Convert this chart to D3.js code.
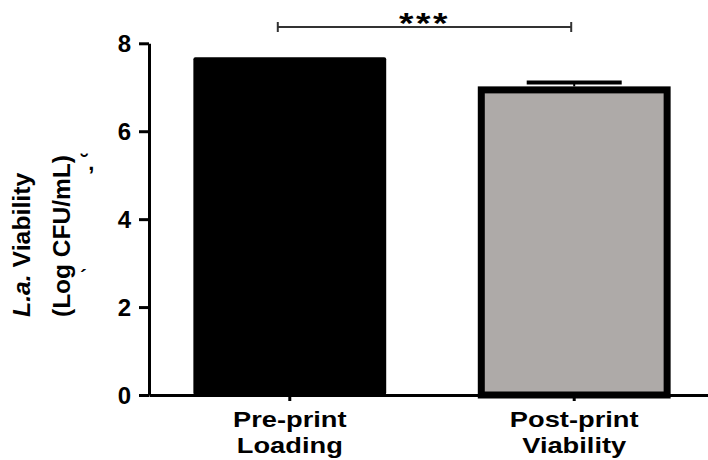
<!DOCTYPE html>
<html>
<head>
<meta charset="utf-8">
<script src="https://cdn.jsdelivr.net/npm/d3@7"></script>
<style>
  body { margin: 0; background: #fff; }
  svg { display: block; font-family: "Liberation Sans", Arial, sans-serif; }
</style>
</head>
<body>
<svg id="chart" width="708" height="460"></svg>
<script>
'use strict'

// data
var categories = ["Pre-print|Loading", "Post-print|Viability"]
var means = [7.68, 7.02]
var errors = [0, 0.09]
var fills = ["#000000", "#aeaaa8"]
var yTicks = [0, 2, 4, 6, 8]
var sigLabel = "***"

var svg = d3.select("#chart")

var x = d3.scaleBand()
  .domain(categories)
  .range([149, 715])
  .paddingInner(0.322)
  .paddingOuter(0.156)

var y = d3.scaleLinear()
  .domain([0, 8])
  .range([395, 43.3])

// stretch factor seen on the category labels
var stretch = 1.24

// bars
var bars = svg.append("g").attr("class", "bars")
categories.forEach(function(c, i) {
  if (i === 0) {
    bars.append("rect")
      .attr("x", x(c))
      .attr("y", y(means[i]))
      .attr("width", x.bandwidth())
      .attr("height", y(0) - y(means[i]))
      .attr("rx", 2)
      .attr("fill", fills[i])
  } else {
    var sw = 7
    bars.append("rect")
      .attr("x", x(c) + sw/2)
      .attr("y", y(means[i]) + sw/2)
      .attr("width", x.bandwidth() - sw)
      .attr("height", y(0) - y(means[i]) - sw/2)
      .attr("fill", fills[i])
      .attr("stroke", "#000")
      .attr("stroke-width", sw)
  }
})

// error bars
categories.forEach(function(c, i) {
  if (!errors[i]) return
  var cx = x(c) + x.bandwidth()/2
  bars.append("line")
    .attr("x1", cx).attr("x2", cx)
    .attr("y1", y(means[i] + errors[i])).attr("y2", y(means[i]))
    .attr("stroke", "#000").attr("stroke-width", 2)
  bars.append("line")
    .attr("x1", cx - 47.5).attr("x2", cx + 47.5)
    .attr("y1", y(means[i] + errors[i])).attr("y2", y(means[i] + errors[i]))
    .attr("stroke", "#000").attr("stroke-width", 4)
})

// y axis
var yAxis = svg.append("g")
  .attr("transform", "translate(149,0)")
  .call(d3.axisLeft(y).tickValues(yTicks).tickSize(10).tickSizeOuter(0).tickPadding(8))
yAxis.select(".domain").attr("stroke", "#000").attr("stroke-width", 3)
yAxis.selectAll(".tick line").attr("stroke", "#000").attr("stroke-width", 3)
yAxis.selectAll(".tick text")
  .attr("font-size", 24).attr("font-weight", "bold")
  .attr("font-family", "Liberation Sans, Arial, sans-serif")
  .attr("fill", "#000")
  .attr("dy", "0.36em")

// x axis
var xAxis = svg.append("g")
  .attr("transform", "translate(0," + y(0) + ")")
  .call(d3.axisBottom(x).tickSize(6).tickSizeOuter(0))
xAxis.select(".domain").attr("stroke", "#000").attr("stroke-width", 3)
xAxis.selectAll(".tick line").attr("stroke", "#000").attr("stroke-width", 3)
xAxis.selectAll(".tick text").remove()

categories.forEach(function(c) {
  var cx = x(c) + x.bandwidth()/2
  var g = svg.append("g").attr("transform", "translate(" + cx + ",0) scale(" + stretch + ",1)")
  c.split("|").forEach(function(line, j) {
    g.append("text")
      .attr("x", 0)
      .attr("y", 427 + j*26)
      .attr("text-anchor", "middle")
      .attr("font-size", 22)
      .attr("font-weight", "bold")
      .attr("fill", "#000")
      .text(line)
  })
})

// y axis title
var title = svg.append("g").attr("transform", "translate(0,317) rotate(-90)")
var t1 = title.append("text")
  .attr("x", 0).attr("y", 30)
  .attr("font-size", 24.8).attr("font-weight", "bold").attr("fill", "#000")
t1.append("tspan").attr("font-style", "italic").text("L.a.")
t1.append("tspan").text(" Viability")
title.append("text")
  .attr("x", 0).attr("y", 70)
  .attr("font-size", 24.5).attr("font-weight", "bold").attr("fill", "#000")
  .text("(Log CFU/mL)")

// stray glyph remnants next to the title (left as in the source image)
svg.append("text").attr("x", 81).attr("y", 170)
  .attr("font-size", 22).attr("font-weight", "bold").attr("fill", "#000")
  .text("\u02D8,")
svg.append("text").attr("x", 80).attr("y", 284)
  .attr("font-size", 20).attr("font-weight", "bold").attr("fill", "#000")
  .text("\u00B4")

// significance bracket
var c0 = x(categories[0]) + x.bandwidth()/2
var c1 = x(categories[1]) + x.bandwidth()/2
var bx0 = c0 - 12, bx1 = c1 - 3, by = 27
var sig = svg.append("g").attr("stroke", "#333").attr("stroke-width", 2)
sig.append("line").attr("x1", bx0).attr("x2", bx1).attr("y1", by).attr("y2", by)
sig.append("line").attr("x1", bx0).attr("x2", bx0).attr("y1", by - 5).attr("y2", by + 5)
sig.append("line").attr("x1", bx1).attr("x2", bx1).attr("y1", by - 5).attr("y2", by + 5)
svg.append("g")
  .attr("transform", "translate(" + (bx0 + bx1)/2 + ",0) scale(" + stretch + ",1)")
  .append("text")
  .attr("x", 0).attr("y", 33)
  .attr("text-anchor", "middle")
  .attr("font-size", 30).attr("font-weight", "bold")
  .attr("letter-spacing", 2)
  .attr("fill", "#000")
  .text(sigLabel)
</script>
</body>
</html>
